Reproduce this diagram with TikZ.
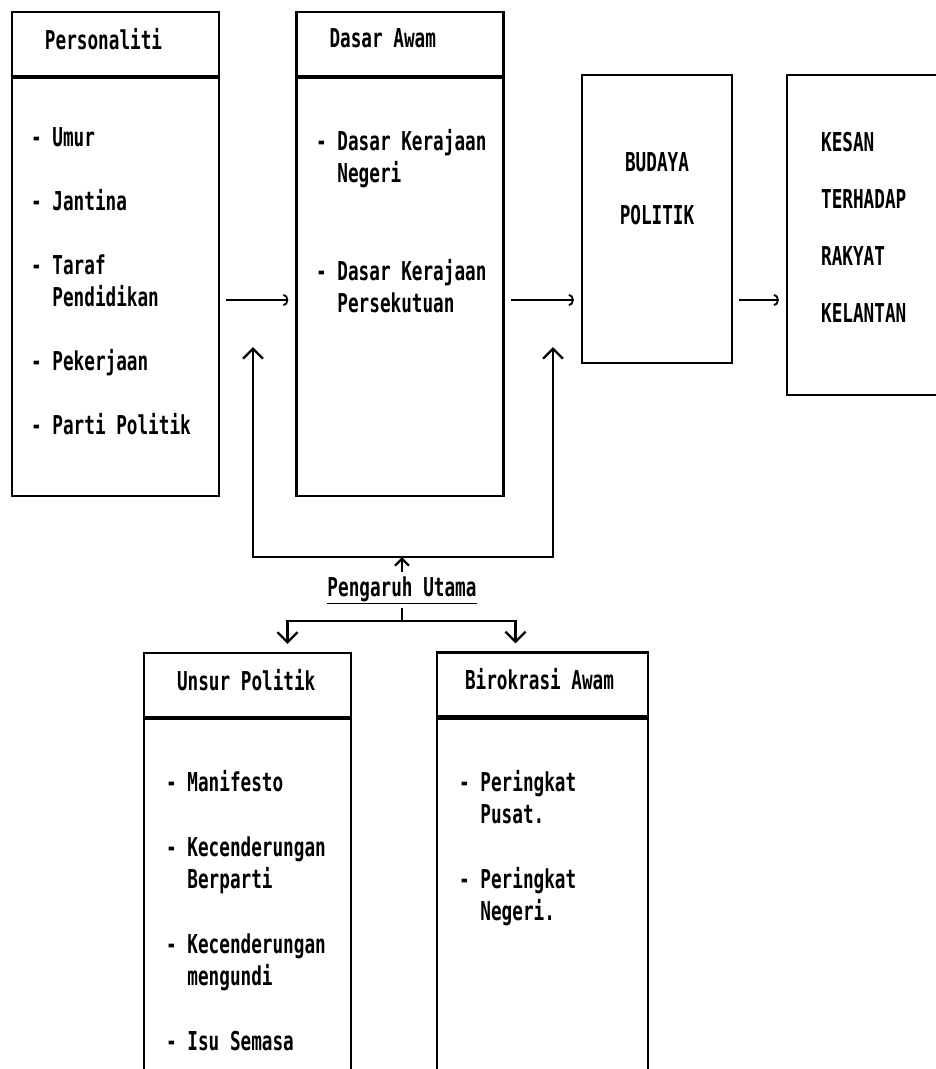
\documentclass[tikz,border=0pt]{standalone}
\usepackage{fontspec}
\setmonofont[FakeStretch=0.68, WordSpace={1,0,0}]{DejaVu Sans Mono}
\usetikzlibrary{arrows.meta}
\newcommand{\dashitem}{-~}
\newcommand{\contline}{\hphantom{-~}}
\newcommand{\headtext}[2][141pt]{\makebox[#1][l]{#2}}

\begin{document}
\begin{tikzpicture}[x=1pt,y=-1pt,line width=2.3pt,font=\ttfamily\bfseries\fontsize{26}{32}\selectfont]
    \tikzstyle{headbox}=[draw, minimum height=64pt, inner xsep=33pt, text depth=11pt]
    \tikzstyle{bodybox}=[draw, anchor=north, minimum width=207pt]
    \tikzstyle{plainbox}=[draw]
    \tikzstyle{itemlist}=[anchor=north west, inner sep=0pt, align=left]
    \tikzstyle{flow arrow}=[-{Arc Barb[length=5pt,width=12pt]}, line width=1.8pt, shorten <=6pt, shorten >=7pt]
    \tikzstyle{rise arrow}=[-{Straight Barb[length=10pt,width=20pt]}]
    \tikzstyle{drop arrow}=[rise arrow, shorten >=8pt]
    \clip (0,0) rectangle (936,1069);
    % Top row of boxes
    \node[headbox] (pers-head) at (115.5,44) {\headtext{Personaliti}};
    \node[bodybox, minimum height=418pt] (pers-body) at (pers-head.south) {};
    \node[headbox] (dasar-head) at (400,44) {\headtext{Dasar Awam}};
    \node[bodybox, minimum height=418pt] (dasar-body) at (dasar-head.south) {};
    \node[plainbox, minimum width=150pt, minimum height=288pt] (budaya) at (657,219) {};
    \node[plainbox, minimum width=170pt, minimum height=320pt] (kesan) at (872,235) {};
    % Box contents
    \node[itemlist] (pers-items) at (30,126) {\dashitem Umur\\[32pt]
        \dashitem Jantina\\[32pt]
        \dashitem Taraf\\
        \contline Pendidikan\\[32pt]
        \dashitem Pekerjaan\\[32pt]
        \dashitem Parti Politik};
    \node[itemlist] (dasar-items) at (315,128) {\dashitem Dasar Kerajaan\\
        \contline Negeri\\[66pt]
        \dashitem Dasar Kerajaan\\
        \contline Persekutuan};
    \node[itemlist, anchor=north, align=center] (budaya-text) at (657,151) {BUDAYA\\[21pt]POLITIK};
    \node[itemlist] (kesan-text) at (820,131) {KESAN\\[25pt]TERHADAP\\[25pt]RAKYAT\\[25pt]KELANTAN};
    % Bottom row of boxes
    \node[headbox] (unsur-head) at (247.5,685) {\headtext{Unsur Politik}};
    \node[bodybox, minimum height=370pt] (unsur-body) at (unsur-head.south) {};
    \node[headbox, inner xsep=28pt] (biro-head) at (542.5,684.5) {\headtext[155pt]{Birokrasi Awam}};
    \node[bodybox, minimum width=211pt, minimum height=370pt] (biro-body) at (biro-head.south) {};
    \node[itemlist] (unsur-items) at (165,769) {\dashitem Manifesto\\[33pt]
        \dashitem Kecenderungan\\
        \contline Berparti\\[33pt]
        \dashitem Kecenderungan\\
        \contline mengundi\\[33pt]
        \dashitem Isu Semasa};
    \node[itemlist] (biro-items) at (458,769) {\dashitem Peringkat\\
        \contline Pusat.\\[33pt]
        \dashitem Peringkat\\
        \contline Negeri.};
    \node[anchor=base, inner sep=3pt] (pengaruh) at (402,596) {\underline{Pengaruh Utama}};
    % Flow along the top row
    \coordinate (flow) at (0,300);
    \foreach \source/\target in {pers-body/dasar-body, dasar-body/budaya, budaya/kesan}
        \draw[flow arrow] (\source.east |- flow) -- (\target.west |- flow);
    % Main influence arrows
    \coordinate (rise-a) at (253,347);
    \coordinate (rise-b) at (553,347);
    \coordinate (join) at (pengaruh.north |- 0,557);
    \coordinate (split) at (pengaruh.south |- 0,621);
    \draw[rise arrow] (join) -| (rise-a);
    \draw[rise arrow] (join) -| (rise-b);
    \draw[-{Straight Barb[length=7pt,width=14pt]}] (pengaruh.north) -- (join);
    \draw (pengaruh.south) -- (split);
    \draw[drop arrow] (split) -| ([xshift=40pt]unsur-head.north);
    \draw[drop arrow] (split) -| ([xshift=-27pt]biro-head.north);
\end{tikzpicture}
\end{document}
